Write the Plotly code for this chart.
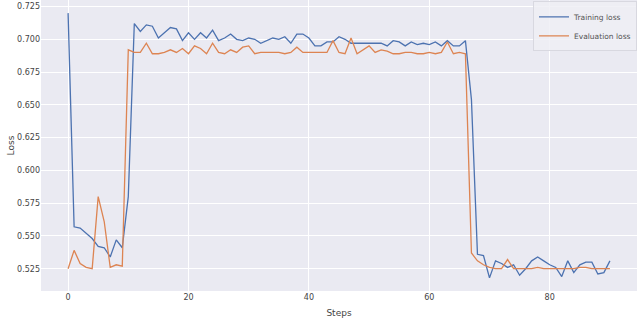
import plotly.graph_objects as go

steps = list(range(91))

training_loss = [
    0.720, 0.557, 0.556, 0.552, 0.548, 0.542, 0.541, 0.534, 0.547, 0.541,
    0.580, 0.712, 0.706, 0.711, 0.710, 0.701, 0.705, 0.709, 0.708, 0.699,
    0.705, 0.700, 0.705, 0.701, 0.707, 0.699, 0.701, 0.704, 0.700, 0.699,
    0.701, 0.700, 0.697, 0.699, 0.701, 0.700, 0.702, 0.697, 0.704, 0.704,
    0.701, 0.695, 0.695, 0.698, 0.698, 0.702, 0.700, 0.697, 0.697, 0.697,
    0.697, 0.697, 0.697, 0.695, 0.699, 0.698, 0.695, 0.698, 0.696, 0.697,
    0.696, 0.698, 0.695, 0.699, 0.695, 0.695, 0.699, 0.654, 0.536, 0.535,
    0.518, 0.531, 0.529, 0.526, 0.528, 0.520, 0.525, 0.531, 0.534, 0.531,
    0.528, 0.526, 0.519, 0.531, 0.522, 0.528, 0.530, 0.530, 0.521, 0.522,
    0.531,
]

evaluation_loss = [
    0.525, 0.539, 0.529, 0.526, 0.525, 0.580, 0.561, 0.526, 0.528, 0.527,
    0.692, 0.690, 0.690, 0.697, 0.689, 0.689, 0.690, 0.692, 0.690, 0.693,
    0.689, 0.695, 0.693, 0.689, 0.697, 0.690, 0.689, 0.692, 0.690, 0.694,
    0.695, 0.689, 0.690, 0.690, 0.690, 0.690, 0.689, 0.690, 0.694, 0.690,
    0.690, 0.690, 0.690, 0.690, 0.699, 0.690, 0.689, 0.701, 0.689, 0.692,
    0.695, 0.690, 0.692, 0.691, 0.689, 0.689, 0.690, 0.690, 0.689, 0.689,
    0.690, 0.689, 0.690, 0.698, 0.689, 0.690, 0.689, 0.537, 0.531, 0.528,
    0.526, 0.525, 0.525, 0.532, 0.525, 0.525, 0.525, 0.525, 0.526, 0.525,
    0.525, 0.525, 0.525, 0.525, 0.525, 0.526, 0.526, 0.525, 0.525, 0.525,
    0.525,
]

x_ticks = [0, 20, 40, 60, 80]
y_ticks = [0.525, 0.550, 0.575, 0.600, 0.625, 0.650, 0.675, 0.700, 0.725]

fig = go.Figure()
fig.add_trace(go.Scatter(x=steps, y=training_loss, mode="lines", name="Training loss",
                         line=dict(color="#4c72b0", width=1.3)))
fig.add_trace(go.Scatter(x=steps, y=evaluation_loss, mode="lines", name="Evaluation loss",
                         line=dict(color="#dd8452", width=1.3)))

font = dict(family="DejaVu Sans", size=8, color="#444444")
fig.update_layout(
    width=640, height=319,
    margin=dict(l=41, r=3, t=0, b=28, autoexpand=False),
    paper_bgcolor="white",
    plot_bgcolor="#eaeaf2",
    font=font,
    showlegend=True,
    legend=dict(x=1.0, y=0.995, xanchor="right", yanchor="top",
                bgcolor="rgba(238,238,244,0.85)", bordercolor="#d8d8e0", borderwidth=1,
                font=dict(family="DejaVu Sans", size=7.5, color="#555555"),
                tracegroupgap=0, itemwidth=30),
    xaxis=dict(range=[-4.5, 94.5], tickvals=x_ticks, ticktext=[str(v) for v in x_ticks],
               showgrid=True, gridcolor="white", gridwidth=1, zeroline=False, automargin=False,
               showline=False, ticks="", title=dict(text="Steps", standoff=8,
               font=dict(family="DejaVu Sans", size=9, color="#444444"))),
    yaxis=dict(range=[0.508, 0.730], tickvals=y_ticks, ticktext=[f"{v:.3f}" for v in y_ticks],
               showgrid=True, gridcolor="white", gridwidth=1, zeroline=False, automargin=False,
               showline=False, ticks="", title=dict(text="Loss", standoff=0,
               font=dict(family="DejaVu Sans", size=9, color="#444444"))),
)

fig.write_html("out.html", config={"displayModeBar": False},
               post_script="document.body.style.margin='0';")
